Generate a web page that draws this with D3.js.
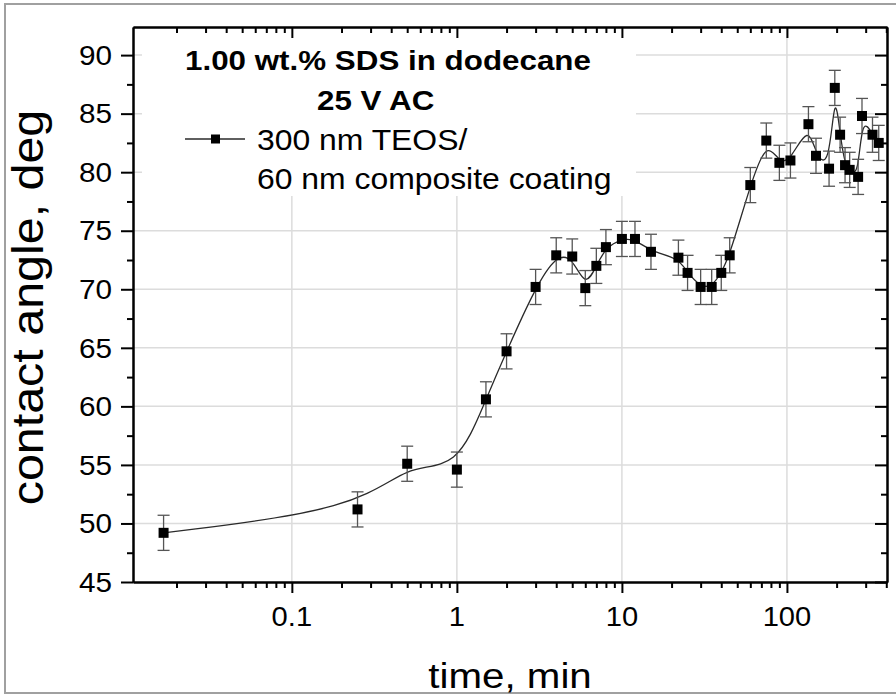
<!DOCTYPE html>
<html>
<head>
  <meta charset="utf-8">
  <title>Contact angle vs time</title>
  <script src="https://d3js.org/d3.v7.min.js"></script>
  <style>
    body { margin: 0; background: #fff; }
    text { font-family: "Liberation Sans", Arial, sans-serif; fill: #000; }
  </style>
</head>
<body>
  <svg id="chart" width="896" height="695"></svg>

  <script>
    // data
    const timeMin = [0.0167, 0.25, 0.5, 1, 1.5, 2, 3, 4, 5, 6, 7, 8, 10, 12, 15, 22, 25, 30, 35, 40, 45,
                     60, 75, 90, 105, 135, 150, 180, 195, 210, 225, 240, 270, 285, 330, 360];
    const angleDeg = [49.2, 51.2, 55.1, 54.6, 60.6, 64.7, 70.2, 72.9, 72.8, 70.1, 72.0, 73.6, 74.3, 74.3, 73.2, 72.7, 71.4, 70.2, 70.2, 71.4, 72.9,
                      78.9, 82.7, 80.8, 81.0, 84.1, 81.4, 80.3, 87.2, 83.2, 80.6, 80.2, 79.6, 84.8, 83.2, 82.5];
    const angleErr = [1.5, 1.5, 1.5, 1.5, 1.5, 1.5, 1.5, 1.5, 1.5, 1.5, 1.5, 1.5, 1.5, 1.5, 1.5, 1.5, 1.5, 1.5, 1.5, 1.5, 1.5,
                      1.5, 1.5, 1.5, 1.5, 1.5, 1.5, 1.5, 1.5, 1.5, 1.5, 1.5, 1.5, 1.5, 1.5, 1.5];

    const xTicks = [0.1, 1, 10, 100];
    const xTickLabels = ["0.1", "1", "10", "100"];
    const yTicks = [45, 50, 55, 60, 65, 70, 75, 80, 85, 90];
    const yMinorTicks = [47.5, 52.5, 57.5, 62.5, 67.5, 72.5, 77.5, 82.5, 87.5];

    const legendTitle = ["1.00 wt.% SDS in dodecane", "25 V AC"];
    const seriesName = ["300 nm TEOS/", "60 nm composite coating"];

    const data = timeMin.map((t, i) => ({ t: t, a: angleDeg[i], e: angleErr[i] }));

    const margin = { top: 27, right: 9, bottom: 113, left: 133 };
    const width = 896, height = 695;
    const svg = d3.select("#chart");

    const x = d3.scaleLog().domain([0.0109, 404]).range([margin.left, width - margin.right]);
    const y = d3.scaleLinear().domain([45, 92.4]).range([height - margin.bottom, margin.top]);
    const x0 = margin.left, x1 = width - margin.right, y0 = height - margin.bottom, y1 = margin.top;

    // outer frame of the picture
    svg.append("rect")
      .attr("x", 5).attr("y", 4).attr("width", 900).attr("height", 689)
      .attr("fill", "none").attr("stroke", "#a0a0a0").attr("stroke-width", 2);

    // grid
    svg.append("g").selectAll("line").data(yTicks.slice(1)).join("line")
      .attr("x1", x0).attr("x2", x1)
      .attr("y1", d => y(d)).attr("y2", d => y(d))
      .attr("stroke", "#dcdcdc").attr("stroke-width", 1.5);
    svg.append("g").selectAll("line").data(xTicks).join("line")
      .attr("x1", d => x(d)).attr("x2", d => x(d))
      .attr("y1", y0).attr("y2", y1)
      .attr("stroke", "#dcdcdc").attr("stroke-width", 1.5);

    // legend background hides the grid behind it
    svg.append("rect")
      .attr("x", 142).attr("y", y1 + 1).attr("width", 494).attr("height", 168)
      .attr("fill", "#fff");

    // smoothed line (B-spline)
    const line = d3.line()
      .x(d => x(d.t))
      .y(d => y(d.a))
      .curve(d3.curveBasis);
    svg.append("path")
      .datum(data)
      .attr("d", line)
      .attr("fill", "none")
      .attr("stroke", "#2a2a2a")
      .attr("stroke-width", 1.3);

    // error bars
    const capW = 6;
    const eb = svg.append("g").attr("stroke", "#555").attr("stroke-width", 1.3);
    eb.selectAll(".v").data(data).join("line")
      .attr("x1", d => x(d.t)).attr("x2", d => x(d.t))
      .attr("y1", d => y(d.a - d.e)).attr("y2", d => y(d.a + d.e));
    eb.selectAll(".top").data(data).join("line").attr("class", "top")
      .attr("x1", d => x(d.t) - capW).attr("x2", d => x(d.t) + capW)
      .attr("y1", d => y(d.a + d.e)).attr("y2", d => y(d.a + d.e));
    eb.selectAll(".bot").data(data).join("line").attr("class", "bot")
      .attr("x1", d => x(d.t) - capW).attr("x2", d => x(d.t) + capW)
      .attr("y1", d => y(d.a - d.e)).attr("y2", d => y(d.a - d.e));

    // markers
    const ms = 10;
    svg.append("g").selectAll("rect").data(data).join("rect")
      .attr("x", d => x(d.t) - ms / 2)
      .attr("y", d => y(d.a) - ms / 2)
      .attr("width", ms).attr("height", ms)
      .attr("fill", "#000");

    // axes
    const xMinor = x.ticks().filter(v => !xTicks.some(m => Math.abs(m - v) < 1e-9));
    function styleAxis(g) {
      g.select(".domain").attr("stroke", "#000").attr("stroke-width", 2);
      g.selectAll(".tick line").attr("stroke", "#000").attr("stroke-width", 2);
      g.selectAll(".tick text").remove();
    }
    // bottom
    svg.append("g").attr("transform", `translate(0,${y0})`)
      .call(d3.axisBottom(x).tickValues(xTicks).tickSize(11).tickSizeOuter(0)).call(styleAxis);
    svg.append("g").attr("transform", `translate(0,${y0})`)
      .call(d3.axisBottom(x).tickValues(xMinor).tickSize(6).tickSizeOuter(0)).call(styleAxis);
    // top (ticks inward)
    svg.append("g").attr("transform", `translate(0,${y1})`)
      .call(d3.axisTop(x).tickValues(xTicks).tickSize(-11).tickSizeOuter(0)).call(styleAxis);
    svg.append("g").attr("transform", `translate(0,${y1})`)
      .call(d3.axisTop(x).tickValues(xMinor).tickSize(-6).tickSizeOuter(0)).call(styleAxis);
    // left
    svg.append("g").attr("transform", `translate(${x0},0)`)
      .call(d3.axisLeft(y).tickValues(yTicks).tickSize(12).tickSizeOuter(0)).call(styleAxis);
    svg.append("g").attr("transform", `translate(${x0},0)`)
      .call(d3.axisLeft(y).tickValues(yMinorTicks).tickSize(6).tickSizeOuter(0)).call(styleAxis);
    // right (ticks inward)
    svg.append("g").attr("transform", `translate(${x1},0)`)
      .call(d3.axisRight(y).tickValues(yTicks).tickSize(-12).tickSizeOuter(0)).call(styleAxis);
    svg.append("g").attr("transform", `translate(${x1},0)`)
      .call(d3.axisRight(y).tickValues(yMinorTicks).tickSize(-6).tickSizeOuter(0)).call(styleAxis);

    // tick labels (the original font is slightly wider than Arial)
    svg.append("g").selectAll("text").data(xTicks).join("text")
      .attr("transform", d => `translate(${x(d)},626) scale(1.04,1)`)
      .attr("text-anchor", "middle")
      .style("font-size", "28px")
      .text((d, i) => xTickLabels[i]);
    svg.append("g").selectAll("text").data(yTicks).join("text")
      .attr("transform", d => `translate(112,${y(d)}) scale(1.1,1)`)
      .attr("text-anchor", "end")
      .attr("dy", "0.36em")
      .style("font-size", "27px")
      .text(d => d);

    // axis titles
    svg.append("text")
      .attr("transform", `translate(${(x0 + x1) / 2},688) scale(1.12,1)`)
      .attr("text-anchor", "middle")
      .style("font-size", "36px")
      .text("time, min");
    svg.append("text")
      .attr("transform", `translate(43,${(y0 + y1) / 2 + 3}) rotate(-90) scale(1.1,1)`)
      .attr("text-anchor", "middle")
      .style("font-size", "44px")
      .text("contact angle, deg");

    // legend
    svg.append("text")
      .attr("transform", "translate(185,70) scale(1.12,1)")
      .style("font-size", "28px").style("font-weight", "bold")
      .text(legendTitle[0]);
    svg.append("text")
      .attr("transform", "translate(317,110) scale(1.12,1)")
      .style("font-size", "28px").style("font-weight", "bold")
      .text(legendTitle[1]);
    svg.append("line")
      .attr("x1", 185).attr("x2", 245).attr("y1", 139).attr("y2", 139)
      .attr("stroke", "#2a2a2a").attr("stroke-width", 1.3);
    svg.append("rect")
      .attr("x", 215.5 - 4.5).attr("y", 139 - 4.5).attr("width", 9).attr("height", 9)
      .attr("fill", "#000");
    svg.append("text")
      .attr("transform", "translate(257,150) scale(1.1,1)")
      .style("font-size", "29px")
      .text(seriesName[0]);
    svg.append("text")
      .attr("transform", "translate(257,189) scale(1.1,1)")
      .style("font-size", "29px")
      .text(seriesName[1]);
  </script>
</body>
</html>
